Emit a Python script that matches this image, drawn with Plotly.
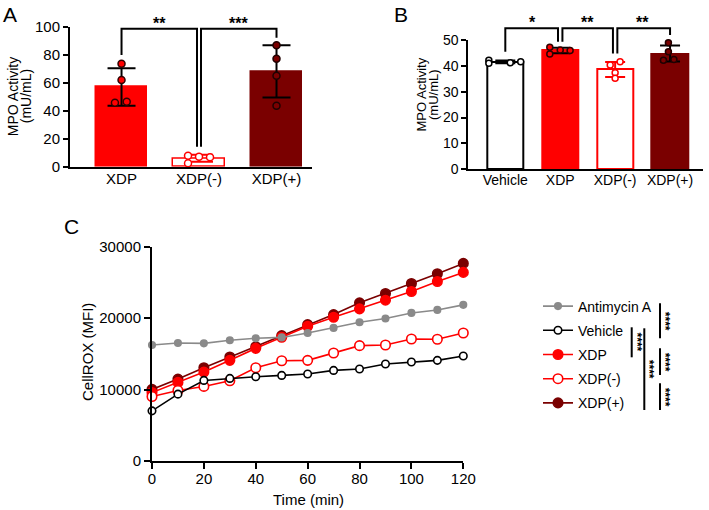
import numpy as np
import plotly.graph_objects as go

W, H = 709, 510
FONT = "Liberation Sans, Arial, sans-serif"
RED = "#ff0000"
DARK = "#7a0000"
GRAY = "#8a8a8a"

# ---------------- Panel A data ----------------
a_groups = ["XDP", "XDP(-)", "XDP(+)"]
a_xdp = [73.6, 61.9, 45.7, 46.4]
a_xdp_neg = [7.9, 2.4, 7.1, 6.7]
a_xdp_pos = [86.7, 77.1, 65.0, 43.6]
a_ticks = [0, 20, 40, 60, 80, 100]
a_sig = ["**", "***"]
a_bracket_top = 98.5
a_bracket_legs = [79.8, 14.3, 14.3, 92.1]

# ---------------- Panel B data ----------------
b_groups = ["Vehicle", "XDP", "XDP(-)", "XDP(+)"]
b_vehicle = [42.2, 41.0, 41.2, 41.6]
b_xdp = [47.2, 44.6, 46.1, 45.9]
b_xdp_neg = [41.6, 40.3, 37.3, 35.2]
b_xdp_pos = [48.9, 45.5, 42.2, 42.5]
b_ticks = [0, 10, 20, 30, 40, 50]
b_sig = ["*", "**", "**"]
b_bracket_top = 54.5
b_bracket_legs = [45.5, 49.3, 49.3, 44.8, 44.8, 51.9]

# ---------------- Panel C data ----------------
time_min = [0, 10, 20, 30, 40, 50, 60, 70, 80, 90, 100, 110, 120]
c_antimycin = [16240, 16520, 16470, 16900, 17180, 17300, 17920, 18630, 19420, 19940, 20730, 21150, 21860]
c_vehicle = [7020, 9360, 11280, 11560, 11790, 11980, 12170, 12680, 12870, 13570, 13850, 14090, 14700]
c_xdp = [9590, 11000, 12450, 14090, 15770, 17320, 18860, 20120, 21290, 22510, 23730, 25130, 26400]
c_xdp_neg = [9030, 9870, 10440, 11230, 13060, 14040, 14090, 15120, 16150, 16240, 17080, 17040, 17920]
c_xdp_pos = [10020, 11470, 13060, 14560, 16000, 17550, 19090, 20500, 22140, 23450, 24850, 26210, 27660]
c_xticks = [0, 20, 40, 60, 80, 100, 120]
c_yticks = [0, 10000, 20000, 30000]
c_sig = ["****"] * 5

# horizontal scatter of dots inside bars (layout only)
a_jitter = [[0, 0, -0.085, 0.067], [-0.142, -0.142, 0, 0.142], [0, 0, 0, 0]]
b_jitter = [[-0.3, -0.3, 0.09, 0.28], [-0.19, -0.19, 0, 0.18], [0.09, -0.09, 0, 0], [-0.03, -0.03, -0.12, 0.07]]


def px_x(p):
    return p / W


def px_y(p):
    return 1 - p / H


fig = go.Figure()

# ---------- Panel A ----------
a_series = [a_xdp, a_xdp_neg, a_xdp_pos]
a_fill = [RED, "white", DARK]
a_edge = [RED, RED, DARK]
a_err = ["black", RED, "black"]
a_mk_fill = [RED, "white", DARK]
a_mk_edge = ["#300000", RED, "#200000"]
for i, vals in enumerate(a_series):
    fig.add_trace(go.Bar(
        x=[i], y=[np.mean(vals)], width=0.66, xaxis="x", yaxis="y",
        marker=dict(color=a_fill[i], line=dict(color=a_edge[i], width=1.5)),
        error_y=dict(type="data", array=[np.std(vals, ddof=1)], color=a_err[i],
                     thickness=2, width=14),
        showlegend=False))
for i, vals in enumerate(a_series):
    fig.add_trace(go.Scatter(
        x=[i + j for j in a_jitter[i]], y=vals, mode="markers", xaxis="x", yaxis="y",
        marker=dict(size=7, color=a_mk_fill[i], line=dict(color=a_mk_edge[i], width=1.5)),
        cliponaxis=False, showlegend=False))

# ---------- Panel B ----------
b_series = [b_vehicle, b_xdp, b_xdp_neg, b_xdp_pos]
b_fill = ["white", RED, "white", DARK]
b_edge = ["black", RED, RED, DARK]
b_err = ["black", "black", RED, "black"]
b_mk_fill = ["white", RED, "white", DARK]
b_mk_edge = ["black", "#300000", RED, "#200000"]
for i, vals in enumerate(b_series):
    fig.add_trace(go.Bar(
        x=[i], y=[np.mean(vals)], width=0.667, xaxis="x2", yaxis="y2",
        marker=dict(color=b_fill[i], line=dict(color=b_edge[i], width=2)),
        error_y=dict(type="data", array=[np.std(vals, ddof=1)], color=b_err[i],
                     thickness=2, width=10),
        showlegend=False))
for i, vals in enumerate(b_series):
    fig.add_trace(go.Scatter(
        x=[i + j for j in b_jitter[i]], y=vals, mode="markers", xaxis="x2", yaxis="y2",
        marker=dict(size=6, color=b_mk_fill[i], line=dict(color=b_mk_edge[i], width=1.5)),
        cliponaxis=False, showlegend=False))

# ---------- Brackets (taller invisible axes) ----------
d = 0.026
a_bx = [[0, 0, 1 - d, 1 - d], [1 + d, 1 + d, 2, 2]]
for k in range(2):
    fig.add_trace(go.Scatter(
        x=a_bx[k], y=[a_bracket_legs[2 * k], a_bracket_top, a_bracket_top, a_bracket_legs[2 * k + 1]],
        mode="lines", line=dict(color="black", width=2), xaxis="x", yaxis="y4",
        showlegend=False, hoverinfo="skip"))
d2 = 0.04
b_bx = [[0, 0, 1 - d2, 1 - d2], [1 + d2, 1 + d2, 2 - d2, 2 - d2], [2 + d2, 2 + d2, 3, 3]]
for k in range(3):
    fig.add_trace(go.Scatter(
        x=b_bx[k], y=[b_bracket_legs[2 * k], b_bracket_top, b_bracket_top, b_bracket_legs[2 * k + 1]],
        mode="lines", line=dict(color="black", width=2), xaxis="x2", yaxis="y5",
        showlegend=False, hoverinfo="skip"))

# ---------- Panel C ----------
c_specs = [
    ("XDP(+)", c_xdp_pos, DARK, DARK, DARK, 9.5, 5),
    ("XDP", c_xdp, RED, RED, RED, 9.5, 3),
    ("XDP(-)", c_xdp_neg, RED, "white", RED, 9.5, 4),
    ("Vehicle", c_vehicle, "black", "white", "black", 7.5, 2),
    ("Antimycin A", c_antimycin, GRAY, GRAY, GRAY, 6.5, 1),
]
for name, vals, lc, fc, ec, sz, rank in c_specs:
    fig.add_trace(go.Scatter(
        x=time_min, y=vals, name=name, mode="lines+markers", xaxis="x3", yaxis="y3",
        line=dict(color=lc, width=1.6),
        marker=dict(size=sz, color=fc, line=dict(color=ec, width=1.6)),
        cliponaxis=False, legendrank=rank, legendgroup=name))

# ---------- Axes ----------
tickfont15 = dict(family=FONT, size=15, color="black")
tickfont14 = dict(family=FONT, size=14, color="black")
axis_common = dict(showline=True, linecolor="black", linewidth=2, showgrid=False,
                   zeroline=False, fixedrange=True, automargin=False)

ya0, ya1 = px_y(166.7), px_y(26.7)
yb0, yb1 = px_y(169.3), px_y(40)

layout_axes = dict(
    xaxis=dict(domain=[px_x(70), px_x(312)], range=[-0.665, 2.458], tickvals=[0, 1, 2],
               ticktext=a_groups, ticks="", tickfont=tickfont15, anchor="y",
               ticklabelstandoff=-3, **axis_common),
    yaxis=dict(domain=[ya0, ya1], range=[0, 100], tickvals=a_ticks, ticks="outside",
               ticklen=5, tickwidth=2, tickcolor="black", tickfont=tickfont15, anchor="x",
               **axis_common),
    yaxis4=dict(domain=[ya0, 1.0], range=[0, 100 * (1.0 - ya0) / (ya1 - ya0)], visible=False,
                anchor="x", fixedrange=True),
    xaxis2=dict(domain=[px_x(468.3), px_x(703)], range=[-0.674, 3.6], tickvals=[0, 1, 2, 3],
                ticktext=b_groups, ticks="", tickfont=tickfont14, anchor="y2",
                ticklabelstandoff=-3, **axis_common),
    yaxis2=dict(domain=[yb0, yb1], range=[0, 50], tickvals=b_ticks, ticks="outside",
                ticklen=5, tickwidth=2, tickcolor="black", tickfont=tickfont14, anchor="x2",
                **axis_common),
    yaxis5=dict(domain=[yb0, 1.0], range=[0, 50 * (1.0 - yb0) / (yb1 - yb0)], visible=False,
                anchor="x2", fixedrange=True),
    xaxis3=dict(domain=[px_x(152), px_x(463.3)], range=[0, 120], tickvals=c_xticks,
                ticks="outside", ticklen=6, tickwidth=2, tickcolor="black",
                tickfont=tickfont15, anchor="y3", ticklabelstandoff=-3, **axis_common),
    yaxis3=dict(domain=[px_y(461), px_y(246.7)], range=[0, 30000], tickvals=c_yticks,
                ticktext=[str(v) for v in c_yticks], ticks="outside", ticklen=6, tickwidth=2,
                tickcolor="black", tickfont=tickfont15, anchor="x3", **axis_common),
)

annotations = []


def ann(text, x, y, size, angle=0, bold=False, xref="paper", yref="paper", xanchor="center",
        yanchor="middle", yshift=0):
    annotations.append(dict(
        text=f"<b>{text}</b>" if bold else text, x=x, y=y, xref=xref, yref=yref,
        showarrow=False, textangle=angle, xanchor=xanchor, yanchor=yanchor, yshift=yshift,
        font=dict(family=FONT, size=size, color="black")))


# panel letters
ann("A", px_x(9.5), px_y(14.5), 21)
ann("B", px_x(401), px_y(14.5), 21)
ann("C", px_x(71.5), px_y(226), 21)

# axis titles
ann("MPO Activity", px_x(12.5), px_y(96.7), 14, -90)
ann("(mU/mL)", px_x(25.5), px_y(96.7), 14, -90)
ann("MPO Activity", px_x(420.5), px_y(95), 13, -90)
ann("(mU/mL)", px_x(433), px_y(95), 13, -90)
ann("CellROX (MFI)", px_x(87), px_y(352), 15, -90)
ann("Time (min)", px_x(308), px_y(499), 15)

# significance stars above brackets
for k, s in enumerate(a_sig):
    ann(s, k + 0.49 + 0.02 * k, a_bracket_top, 16, bold=True, xref="x", yref="y4",
        yanchor="bottom", yshift=-5)
for k, s in enumerate(b_sig):
    ann(s, k + 0.5, b_bracket_top, 16, bold=True, xref="x2", yref="y5", yanchor="bottom",
        yshift=-5)

# legend comparison lines (panel C)
shapes = []
c_sig_lines = [(631.7, 327.3, 357.3), (644.3, 328.3, 410), (660, 303.3, 338.3),
               (660, 348.3, 375), (660, 383.3, 410)]
for (lx, y0p, y1p), s in zip(c_sig_lines, c_sig):
    shapes.append(dict(type="line", xref="paper", yref="paper", x0=px_x(lx), x1=px_x(lx),
                       y0=px_y(y0p), y1=px_y(y1p), line=dict(color="black", width=2)))
    ann(s, px_x(lx + 5), px_y((y0p + y1p) / 2), 12, angle=90, bold=True)

fig.update_layout(
    width=W, height=H, margin=dict(l=0, r=0, t=0, b=0, autoexpand=False),
    paper_bgcolor="white", plot_bgcolor="rgba(0,0,0,0)",
    font=dict(family=FONT, color="black"),
    bargap=0, barmode="overlay",
    showlegend=True,
    legend=dict(x=px_x(538), y=px_y(290.5), xanchor="left", yanchor="top",
                font=dict(family=FONT, size=14, color="black"), traceorder="grouped",
                tracegroupgap=3, itemwidth=30, bgcolor="rgba(0,0,0,0)"),
    annotations=annotations, shapes=shapes,
    **layout_axes,
)

fig.write_html(
    "out.html",
    config={"displayModeBar": False},
    post_script="document.body.style.margin='0';document.body.style.overflow='hidden';",
)
